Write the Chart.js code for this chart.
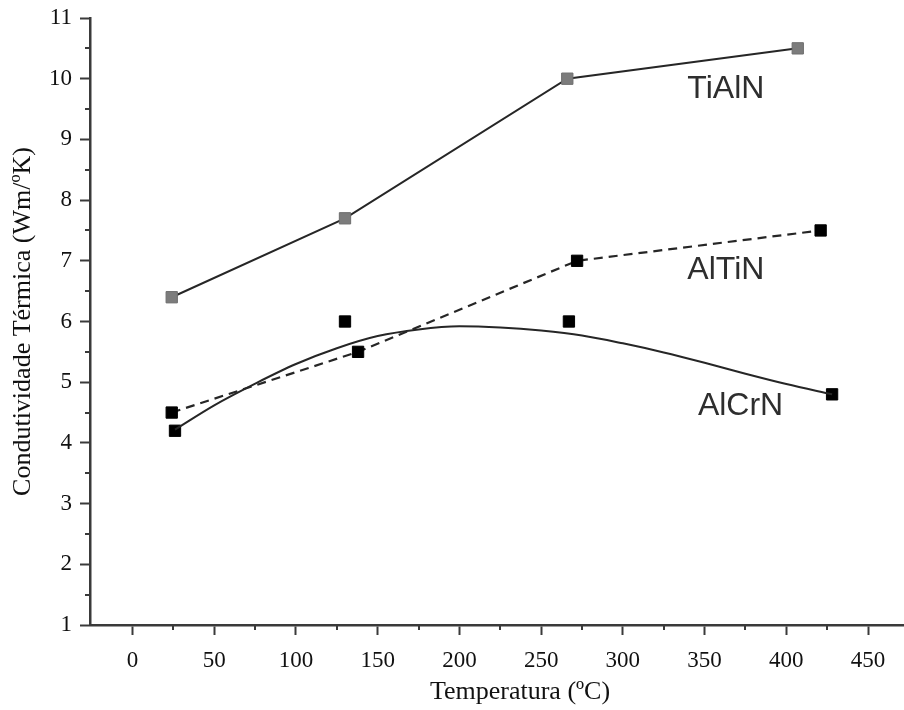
<!DOCTYPE html>
<html>
<head>
<meta charset="utf-8">
<script src="https://cdn.jsdelivr.net/npm/chart.js@4.4.1/dist/chart.umd.min.js"></script>
<style>
  html, body { margin: 0; padding: 0; background: #fff; }
  #wrap { width: 904px; height: 710px; }
</style>
</head>
<body>
<div id="wrap"><canvas id="c" width="904" height="710"></canvas></div>
<script>
// ---- data ----
const tialnX = [24, 130, 266, 407];
const tialnY = [6.4, 7.7, 10.0, 10.5];

const altinX = [24, 138, 272, 421];
const altinY = [4.5, 5.5, 7.0, 7.5];

const alcrnX = [26, 130, 267, 428];
const alcrnY = [4.2, 6.0, 6.0, 4.8];

// fitted AlCrN curve
const alcrnFitX = [26, 50, 76, 100, 125, 150, 175, 200, 225, 250, 275, 300, 325, 350, 375, 400, 428];
const alcrnFitY = [4.22, 4.62, 4.99, 5.3, 5.56, 5.76, 5.87, 5.92, 5.9, 5.85, 5.77, 5.64, 5.49, 5.32, 5.14, 4.97, 4.8];

const xTickValues = [0, 50, 100, 150, 200, 250, 300, 350, 400, 450];
const yTickValues = [1, 2, 3, 4, 5, 6, 7, 8, 9, 10, 11];
const xMinorValues = [25, 75, 125, 175, 225, 275, 325, 375, 425];
const yMinorValues = [1.5, 2.5, 3.5, 4.5, 5.5, 6.5, 7.5, 8.5, 9.5, 10.5];

const seriesLabels = ['TiAlN', 'AlTiN', 'AlCrN'];
const labelAnchorX = [363, 363, 372];
const labelAnchorY = [9.83, 6.85, 4.6];

const xTitle = 'Temperatura (ºC)';
const yTitle = 'Condutividade Térmica (Wm/ºK)';

// ---- build ----
const pts = (xs, ys) => xs.map((x, i) => ({x, y: ys[i]}));
const AXIS = '#3a3a3a';
const LINE = '#262626';
const serif = '"Liberation Serif", "Times New Roman", serif';

const minorTicks = {
  id: 'minorTicks',
  afterDraw(chart) {
    const {ctx, scales: {x, y}} = chart;
    ctx.save();
    ctx.strokeStyle = AXIS;
    ctx.lineWidth = 2;
    ctx.beginPath();
    xMinorValues.forEach(v => {
      const px = Math.round(x.getPixelForValue(v));
      ctx.moveTo(px, y.bottom);
      ctx.lineTo(px, y.bottom + 5);
    });
    yMinorValues.forEach(v => {
      const py = Math.round(y.getPixelForValue(v));
      ctx.moveTo(x.left, py);
      ctx.lineTo(x.left - 5, py);
    });
    ctx.stroke();
    // x-axis title, centred as in the original figure
    ctx.fillStyle = '#111';
    ctx.font = '26px ' + serif;
    ctx.textAlign = 'center';
    ctx.textBaseline = 'middle';
    ctx.fillText(xTitle, 520, 692);
    ctx.restore();
  }
};

const seriesText = {
  id: 'seriesText',
  afterDatasetsDraw(chart) {
    const {ctx, scales: {x, y}} = chart;
    ctx.save();
    ctx.fillStyle = '#2e2e2e';
    ctx.font = '32px "Liberation Sans", Arial, sans-serif';
    ctx.textAlign = 'center';
    ctx.textBaseline = 'middle';
    seriesLabels.forEach((t, i) => {
      ctx.fillText(t, x.getPixelForValue(labelAnchorX[i]), y.getPixelForValue(labelAnchorY[i]));
    });
    ctx.restore();
  }
};

new Chart(document.getElementById('c'), {
  type: 'scatter',
  data: {
    datasets: [
      {
        label: 'TiAlN',
        data: pts(tialnX, tialnY),
        showLine: true,
        borderColor: LINE,
        borderWidth: 2,
        tension: 0,
        pointStyle: 'rect',
        pointRadius: 8,
        pointBackgroundColor: '#7c7c7c',
        pointBorderColor: '#6e6e6e',
        pointBorderWidth: 1
      },
      {
        label: 'AlTiN',
        data: pts(altinX, altinY),
        showLine: true,
        borderColor: LINE,
        borderWidth: 2.2,
        borderDash: [9, 6],
        tension: 0,
        pointStyle: 'rect',
        pointRadius: 8,
        pointBackgroundColor: '#000',
        pointBorderColor: '#000',
        pointBorderWidth: 1
      },
      {
        label: 'AlCrN fit',
        data: pts(alcrnFitX, alcrnFitY),
        showLine: true,
        borderColor: LINE,
        borderWidth: 2,
        cubicInterpolationMode: 'monotone',
        pointRadius: 0
      },
      {
        label: 'AlCrN',
        data: pts(alcrnX, alcrnY),
        showLine: false,
        pointStyle: 'rect',
        pointRadius: 8,
        pointBackgroundColor: '#000',
        pointBorderColor: '#000',
        pointBorderWidth: 1
      }
    ]
  },
  options: {
    responsive: false,
    animation: false,
    events: [],
    layout: { autoPadding: false, padding: { top: 18, right: 0, left: 0, bottom: 0 } },
    plugins: { legend: { display: false }, tooltip: { enabled: false } },
    scales: {
      x: {
        type: 'linear',
        min: -26,
        max: 472,
        afterBuildTicks: s => { s.ticks = xTickValues.map(v => ({value: v})); },
        afterFit: s => { s.height = 85; s.paddingLeft = 0; s.paddingRight = 0; },
        grid: { drawOnChartArea: false, drawTicks: true, tickLength: 10, tickColor: AXIS, tickWidth: 2 },
        border: { display: true, color: AXIS, width: 2.5 },
        ticks: { color: '#111', font: { family: serif, size: 23 }, padding: 12, maxRotation: 0, autoSkip: false },
        title: { display: false }
      },
      y: {
        type: 'linear',
        min: 1,
        max: 11,
        afterBuildTicks: s => { s.ticks = yTickValues.map(v => ({value: v})); },
        afterFit: s => { s.width = 90; s.paddingTop = 0; s.paddingBottom = 0; },
        grid: { drawOnChartArea: false, drawTicks: true, tickLength: 10, tickColor: AXIS, tickWidth: 2 },
        border: { display: true, color: AXIS, width: 2.5 },
        ticks: { color: '#111', font: { family: serif, size: 23 }, padding: 8, autoSkip: false },
        title: { display: true, text: yTitle, color: '#111', font: { family: serif, size: 26 }, padding: { top: 8, bottom: 0 } }
      }
    }
  },
  plugins: [minorTicks, seriesText]
});
</script>
</body>
</html>
